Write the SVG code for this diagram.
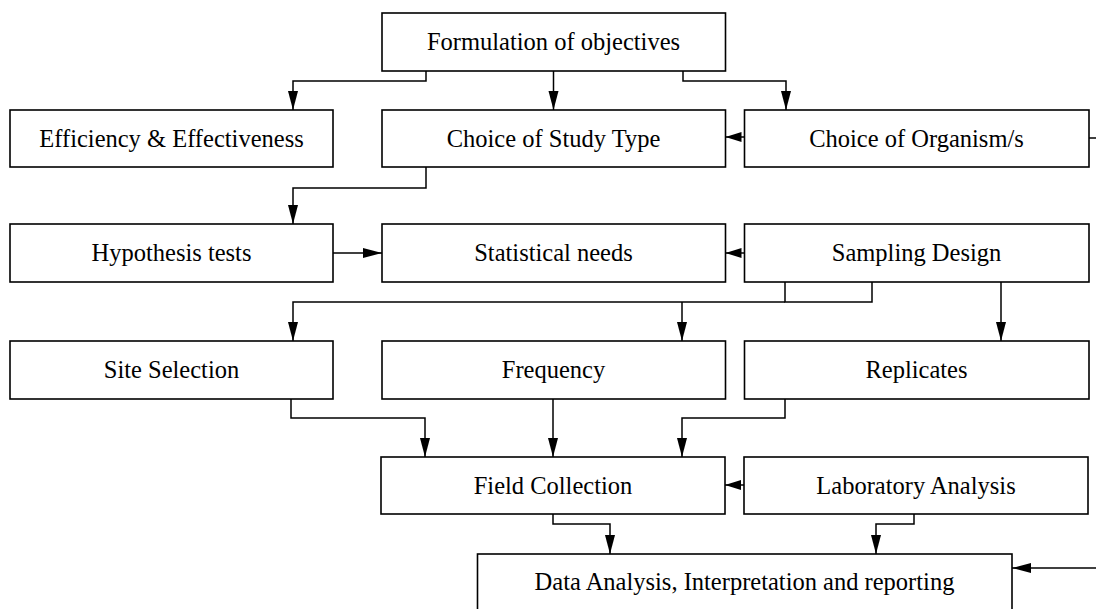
<svg xmlns="http://www.w3.org/2000/svg" width="1096" height="609" viewBox="0 0 1096 609">
<style>
.box{fill:#fff;stroke:#000;stroke-width:1.6}
.lbl{font-family:"Liberation Serif","Times New Roman",serif;font-size:24.5px;fill:#000;text-anchor:middle}
.c{fill:none;stroke:#000;stroke-width:1.5}
</style>
<defs>
<marker id="ah" markerUnits="userSpaceOnUse" markerWidth="20" markerHeight="12" refX="19" refY="5" orient="auto">
<path d="M0,0 L19,5 L0,10 z" fill="#000"/>
</marker>
<marker id="ahs" markerUnits="userSpaceOnUse" markerWidth="18" markerHeight="12" refX="16" refY="5" orient="auto">
<path d="M0,0 L16,5 L0,10 z" fill="#000"/>
</marker>
</defs>
<rect width="1096" height="609" fill="#fff"/>
<g id="connectors">
<path class="c" d="M426,71 V81 H293 V110" marker-end="url(#ah)"/>
<path class="c" d="M553.5,71 V110" marker-end="url(#ah)"/>
<path class="c" d="M683,71 V81 H786 V110" marker-end="url(#ah)"/>
<path class="c" d="M744.5,137 H725.5" marker-end="url(#ahs)"/>
<path class="c" d="M1089,138 H1096"/>
<path class="c" d="M426,167 V188 H293 V224" marker-end="url(#ah)"/>
<path class="c" d="M333,253 H382" marker-end="url(#ah)"/>
<path class="c" d="M744.5,253 H725.5" marker-end="url(#ahs)"/>
<path class="c" d="M785,282 V302 H872 V282"/>
<path class="c" d="M785,302 H293 V341" marker-end="url(#ah)"/>
<path class="c" d="M682,302 V341" marker-end="url(#ah)"/>
<path class="c" d="M1001,282 V341" marker-end="url(#ah)"/>
<path class="c" d="M291,399 V418 H425 V457" marker-end="url(#ah)"/>
<path class="c" d="M553,399 V457" marker-end="url(#ah)"/>
<path class="c" d="M785,399 V418 H682 V457" marker-end="url(#ah)"/>
<path class="c" d="M744,485 H725" marker-end="url(#ahs)"/>
<path class="c" d="M553,514 V524 H610 V554" marker-end="url(#ah)"/>
<path class="c" d="M914,514 V524 H876 V554" marker-end="url(#ah)"/>
<path class="c" d="M1096,568 H1012" marker-end="url(#ah)"/>
</g>
<g id="n-formulation"><rect class="box" x="382" y="13" width="343.5" height="58"/><text class="lbl" x="553.5" y="50">Formulation of objectives</text></g>
<g id="n-efficiency"><rect class="box" x="10" y="110" width="323" height="57"/><text class="lbl" x="171.5" y="147">Efficiency &amp; Effectiveness</text></g>
<g id="n-studytype"><rect class="box" x="382" y="110" width="343.5" height="57"/><text class="lbl" x="553.5" y="147">Choice of Study Type</text></g>
<g id="n-organism"><rect class="box" x="744.5" y="110" width="344.5" height="57"/><text class="lbl" x="916.5" y="147">Choice of Organism/s</text></g>
<g id="n-hypothesis"><rect class="box" x="10" y="224" width="323" height="58"/><text class="lbl" x="171.5" y="261">Hypothesis tests</text></g>
<g id="n-statistical"><rect class="box" x="382" y="224" width="343.5" height="58"/><text class="lbl" x="553.5" y="261">Statistical needs</text></g>
<g id="n-sampling"><rect class="box" x="744.5" y="224" width="344.5" height="58"/><text class="lbl" x="916.5" y="261">Sampling Design</text></g>
<g id="n-site"><rect class="box" x="10" y="341" width="323" height="58"/><text class="lbl" x="171.5" y="378">Site Selection</text></g>
<g id="n-frequency"><rect class="box" x="382" y="341" width="343.5" height="58"/><text class="lbl" x="553.5" y="378">Frequency</text></g>
<g id="n-replicates"><rect class="box" x="744.5" y="341" width="344.5" height="58"/><text class="lbl" x="916.5" y="378">Replicates</text></g>
<g id="n-field"><rect class="box" x="381" y="457" width="344" height="57"/><text class="lbl" x="553" y="494">Field Collection</text></g>
<g id="n-lab"><rect class="box" x="744" y="457" width="344" height="57"/><text class="lbl" x="916" y="494">Laboratory Analysis</text></g>
<g id="n-data"><rect class="box" x="477.5" y="554" width="534.5" height="70"/><text class="lbl" x="744.5" y="590">Data Analysis, Interpretation and reporting</text></g>
</svg>
